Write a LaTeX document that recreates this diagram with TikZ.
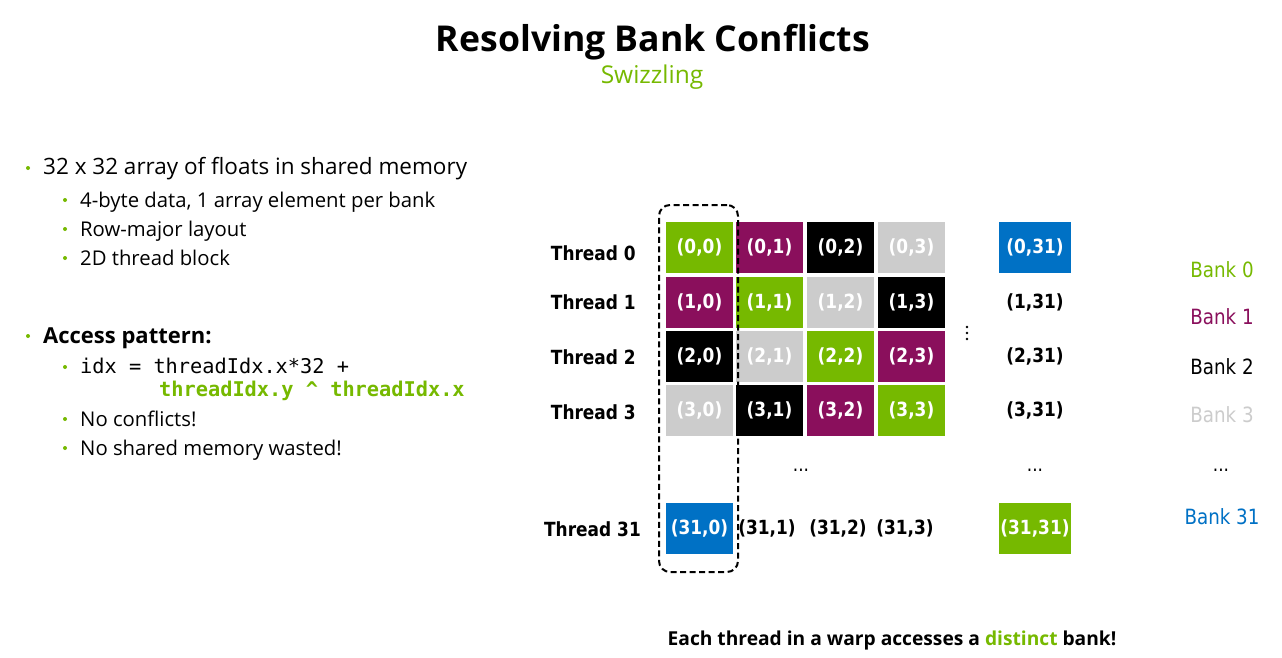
\documentclass[tikz,border=0pt]{standalone}
\usepackage{fontspec}
\setmainfont{Open Sans}
\newfontfamily\gridfont{DejaVu Sans}[FakeStretch=0.87]
\newfontfamily\codefont{DejaVu Sans Mono}
\definecolor{nvgreen}{HTML}{76B900}
\definecolor{nvpurple}{HTML}{8A0F5C}
\definecolor{nvblue}{HTML}{0071C5}
\definecolor{nvgray}{HTML}{CCCCCC}
\begin{document}
\begin{tikzpicture}[x=1pt,y=-1pt,
  body/.style={anchor=base west,inner sep=0pt,font=\fontsize{22.5}{26}\selectfont},
  sub/.style={anchor=base west,inner sep=0pt,font=\fontsize{20.3}{24}\selectfont},
  code/.style={anchor=base west,inner sep=0pt,font=\codefont\fontsize{20.3}{24}\selectfont},
  bul/.style={circle,fill=nvgreen,inner sep=0pt,minimum size=4pt},
  cell/.style={minimum width=67pt,minimum height=51pt,inner sep=0pt,text=white,font=\gridfont\bfseries\fontsize{19.5}{22}\selectfont},
  plain/.style={inner sep=0pt,font=\gridfont\bfseries\fontsize{19.5}{22}\selectfont},
  thr/.style={anchor=base east,inner sep=0pt,font=\gridfont\bfseries\fontsize{19.5}{22}\selectfont},
  bank/.style={anchor=base,inner sep=0pt,font=\gridfont\fontsize{21}{24}\selectfont},
  dot/.style={circle,fill=black,inner sep=0pt,minimum size=2.6pt}]
\useasboundingbox[fill=white] (0,0) rectangle (1282,658);
% title
\node[anchor=base,inner sep=0pt,font=\bfseries\fontsize{35.6}{40}\selectfont] (title) at (653,52) {Resolving Bank Conflicts};
\node[anchor=base,inner sep=0pt,text=nvgreen,font=\fontsize{24.5}{28}\selectfont] (subtitle) at (652,84) {Swizzling};
% left text
\node[bul] (b1) at (28,168) {};
\node[body] (t1) at (43,175) {32 x 32 array of floats in shared memory};
\node[bul] (b2) at (65,200) {};
\node[sub] (t2) at (80,207) {4-byte data, 1 array element per bank};
\node[bul] (b3) at (65,229) {};
\node[sub] (t3) at (80,236) {Row-major layout};
\node[bul] (b4) at (65,258) {};
\node[sub] (t4) at (80,265) {2D thread block};
\node[bul] (b5) at (28,336) {};
\node[body,font=\bfseries\fontsize{22}{26}\selectfont] (t5) at (43,343) {Access pattern:};
\node[bul] (b6) at (65,367) {};
\node[code] (t6) at (80,373) {idx = threadIdx.x*32 +};
\node[code,text=nvgreen,font=\codefont\bfseries\fontsize{20.3}{24}\selectfont] (t7) at (159,396) {threadIdx.y \^{} threadIdx.x};
\node[bul] (b8) at (65,419) {};
\node[sub] (t8) at (80,426) {No conflicts!};
\node[bul] (b9) at (65,448) {};
\node[sub] (t9) at (80,455) {No shared memory wasted!};
% grid
\def\colx{{699.5,769.5,840.5,911.5}}
\def\rowy{{247.5,302,356,410}}
\foreach \r/\c/\col in {0/0/nvgreen,0/1/nvpurple,0/2/black,0/3/nvgray,
                        1/0/nvpurple,1/1/nvgreen,1/2/nvgray,1/3/black,
                        2/0/black,2/1/nvgray,2/2/nvgreen,2/3/nvpurple,
                        3/0/nvgray,3/1/black,3/2/nvpurple,3/3/nvgreen}{
  \pgfmathsetmacro{\cx}{\colx[\c]}
  \pgfmathsetmacro{\cy}{\rowy[\r]}
  \node[cell,fill=\col] (c\r\c) at (\cx,\cy) {(\r,\c)};
}
\node[cell,fill=nvblue,minimum width=72pt] (c031) at (1035,247.5) {(0,31)};
\node[plain] (c131) at (1035,302) {(1,31)};
\node[plain] (c231) at (1035,356) {(2,31)};
\node[plain] (c331) at (1035,410) {(3,31)};
\node[cell,fill=nvblue] (c310) at (699.5,528) {(31,0)};
\node[plain] (c311) at (767,528) {(31,1)};
\node[plain] (c312) at (838,528) {(31,2)};
\node[plain] (c313) at (905,528) {(31,3)};
\node[cell,fill=nvgreen,minimum width=72pt] (c3131) at (1035,528) {(31,31)};
\node[dot] (vd1) at (967,327) {};
\node[dot] (vd2) at (967,333) {};
\node[dot] (vd3) at (967,339) {};
\node[plain,font=\gridfont\fontsize{19.5}{22}\selectfont] (hd1) at (801,470) {...};
\node[plain,font=\gridfont\fontsize{19.5}{22}\selectfont] (hd2) at (1035,470) {...};
% thread labels
\node[thr] (th0) at (636,260) {Thread 0};
\node[thr] (th1) at (636,309) {Thread 1};
\node[thr] (th2) at (636,364) {Thread 2};
\node[thr] (th3) at (636,419) {Thread 3};
\node[thr] (th31) at (641,536) {Thread 31};
% dashed box
\node[draw,line width=2pt,dash pattern=on 6pt off 3.5pt,rounded corners=11pt,inner sep=0pt,
      minimum width=79pt,minimum height=367pt] (warp) at (698.5,388.5) {};
% banks
\node[bank,text=nvgreen] (bk0) at (1222,277) {Bank 0};
\node[bank,text=nvpurple] (bk1) at (1222,324) {Bank 1};
\node[bank] (bk2) at (1222,374) {Bank 2};
\node[bank,text=nvgray] (bk3) at (1222,422) {Bank 3};
\node[plain,font=\gridfont\fontsize{19.5}{22}\selectfont] (hd3) at (1221,470) {...};
\node[bank,text=nvblue] (bk31) at (1222,524) {Bank 31};
% bottom
\node[anchor=base,inner sep=0pt,font=\bfseries\fontsize{19.2}{23}\selectfont] (foot) at (892,645) {Each thread in a warp accesses a \textcolor{nvgreen}{distinct} bank!};
\end{tikzpicture}
\end{document}
